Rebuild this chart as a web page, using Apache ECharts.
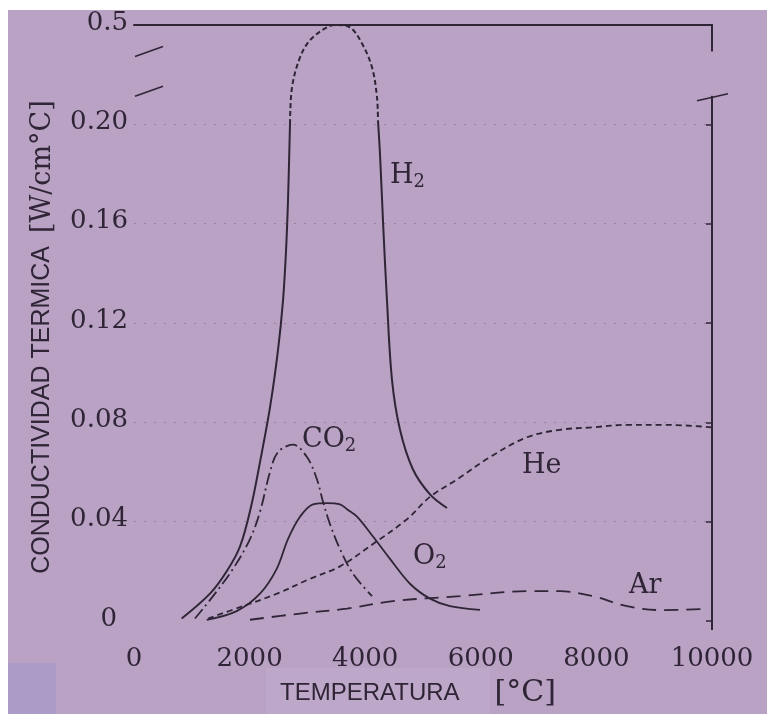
<!DOCTYPE html>
<html><head><meta charset="utf-8">
<script src="https://cdn.jsdelivr.net/npm/echarts@6/dist/echarts.min.js"></script>
<style>html,body{margin:0;padding:0;background:#fff}#c{width:767px;height:714px}</style>
</head><body><div id="c"></div>
<script>
// ---------- data (temperature in °C, conductivity in W/cm°C) ----------
const yTickLabels = ['0', '0.04', '0.08', '0.12', '0.16', '0.20', '0.5'];

const h2LeftT  = [825, 1315, 1604, 1834, 2025, 2180, 2353, 2491, 2578, 2630, 2664, 2699];
const h2LeftK  = [0.001, 0.011, 0.020, 0.030, 0.046, 0.064, 0.086, 0.109, 0.129, 0.149, 0.169, 0.201];
const h2TopT   = [2699, 2734, 2872, 3045, 3339, 3512, 3737, 3945, 4118, 4204, 4221];
const h2TopK   = [0.201, 0.312, 0.402, 0.454, 0.493, 0.500, 0.493, 0.444, 0.372, 0.282, 0.212];
const h2RightT = [4221, 4256, 4308, 4377, 4464, 4602, 4827, 5121, 5415];
const h2RightK = [0.212, 0.188, 0.161, 0.129, 0.097, 0.077, 0.061, 0.051, 0.0455];

const co2T = [1055, 1367, 1713, 2007, 2180, 2353, 2491, 2751, 2993, 3166, 3270, 3391, 3564, 3789, 4118];
const co2K = [0.001, 0.010, 0.021, 0.033, 0.044, 0.060, 0.068, 0.071, 0.066, 0.057, 0.048, 0.039, 0.029, 0.019, 0.010];

const o2T = [1258, 1777, 2180, 2469, 2664, 2872, 3097, 3339, 3564, 3685, 3858, 4135, 4429, 4775, 5121, 5467, 5986];
const o2K = [0.0005, 0.004, 0.011, 0.021, 0.033, 0.042, 0.047, 0.0475, 0.047, 0.045, 0.042, 0.034, 0.025, 0.015, 0.009, 0.006, 0.0045];

const heT = [1280, 1886, 2474, 3045, 3564, 4135, 4723, 5121, 5588, 6159, 6799, 7370, 7941, 8529, 9200, 10000];
const heK = [0.001, 0.006, 0.011, 0.017, 0.022, 0.031, 0.041, 0.050, 0.057, 0.066, 0.074, 0.077, 0.078, 0.079, 0.079, 0.078];

const arT = [2007, 2872, 3685, 4481, 5640, 6799, 7370, 7941, 8529, 9100, 9844];
const arK = [0.0005, 0.003, 0.005, 0.008, 0.010, 0.012, 0.012, 0.010, 0.006, 0.0044, 0.0048];

// curve labels: [name, subscript, T, K]
const curveLabels = [
  ['H', '2', 4429, 0.179],
  ['CO', '2', 2907, 0.0728],
  ['He', '', 6713, 0.0624],
  ['O', '2', 4827, 0.0258],
  ['Ar', '', 8564, 0.0141]
];

// ---------- broken y axis: 0.20 .. 0.5 compressed into one 0.04 step ----------
const BREAK_LO = 0.20, BREAK_HI = 0.5, BREAK_SPAN = 0.04;
const toAxis = k => k <= BREAK_LO ? k : BREAK_LO + (k - BREAK_LO) * BREAK_SPAN / (BREAK_HI - BREAK_LO);
const pts = (T, K) => T.map((t, i) => [t, toAxis(K[i])]);

const INK = '#2f2536';
const BG = '#b9a2c4';
const SERIF = 'DejaVu Serif';
const SANS = 'Liberation Sans';

const chart = echarts.init(document.getElementById('c'), null, {renderer: 'canvas'});

function line(name, data, type, width) {
  return {
    name, type: 'line', data, smooth: 0.35, showSymbol: false, symbol: 'none',
    xAxisIndex: 0, yAxisIndex: 0, z: 5,
    lineStyle: {color: INK, width: width || 1.8, type: type || 'solid'}
  };
}

chart.setOption({
  animation: false,
  backgroundColor: BG,
  grid: {left: 134, right: 55, top: 25, bottom: 93},
  xAxis: [{
    type: 'value', min: 0, max: 10000, interval: 2000, position: 'bottom',
    axisLine: {show: false, onZero: false}, axisTick: {show: false}, splitLine: {show: false},
    axisLabel: {fontFamily: SERIF, fontSize: 26, color: INK, margin: 25, formatter: v => String(v)},
    name: '{a|TEMPERATURA}{b|[°C]}', nameLocation: 'middle', nameGap: 57,
    nameTextStyle: {padding: [0, 10, 0, 0], rich: {
      a: {fontFamily: SANS, fontSize: 24, color: INK},
      b: {fontFamily: SERIF, fontSize: 30, color: INK, padding: [0, 0, 0, 35]}
    }}
  }, {
    type: 'value', min: 0, max: 10000, interval: 2000, position: 'top',
    axisLine: {show: true, onZero: false, lineStyle: {color: INK, width: 2}},
    axisTick: {show: false}, axisLabel: {show: false}, splitLine: {show: false}
  }],
  yAxis: [{
    type: 'value', min: 0, max: 0.24, interval: 0.04, position: 'left',
    axisLine: {show: false, onZero: false}, axisTick: {show: false},
    axisLabel: {
      fontFamily: SERIF, fontSize: 26, color: INK, margin: 6,
      padding: [0, 0, 4, 0],
      formatter: v => {
        const s = yTickLabels[Math.round(v / 0.04)];
        return s === '0' ? '{z|0}' : s;
      },
      rich: {z: {fontFamily: SERIF, fontSize: 26, color: INK, padding: [0, 11, 0, 0]}}
    },
    splitLine: {show: true, showMinLine: false, showMaxLine: false,
      lineStyle: {color: 'rgba(70,50,80,0.3)', type: [2, 8], width: 1.2}},
    name: '{a|CONDUCTIVIDAD TERMICA}{b|[W/cm°C]}', nameLocation: 'middle', nameRotate: 90, nameGap: 78,
    nameTextStyle: {padding: [0, 28, 0, 0], rich: {
      a: {fontFamily: SANS, fontSize: 25, color: INK},
      b: {fontFamily: SERIF, fontSize: 27, color: INK, padding: [0, 0, 0, 13]}
    }}
  }, {
    type: 'value', min: 0, max: 0.24, interval: 0.04, position: 'right',
    axisLine: {show: true, onZero: false, lineStyle: {color: INK, width: 2}},
    axisTick: {show: true, inside: true, length: 6, lineStyle: {color: INK, width: 1.5}},
    axisLabel: {show: false}, splitLine: {show: false}
  }],
  series: [
    line('H2', pts(h2LeftT, h2LeftK), 'solid', 2),
    line('H2 (extrapolado)', pts(h2TopT, h2TopK), [5, 3], 2),
    line('H2 ', pts(h2RightT, h2RightK), 'solid', 2),
    line('CO2', pts(co2T, co2K), [12, 4, 2, 4], 1.8),
    line('O2', pts(o2T, o2K), 'solid', 1.8),
    line('He', pts(heT, heK), [6, 4], 1.8),
    line('Ar', pts(arT, arK), [14, 8], 1.8)
  ]
});

// ---------- decorations anchored to the axes ----------
const px = (t, k) => chart.convertToPixel({gridIndex: 0}, [t, toAxis(k)]);
const g = [];
// scan page edges
g.push({type: 'rect', z: -10, silent: true, shape: {x: 0, y: 0, width: 767, height: 10}, style: {fill: '#ffffff'}});
g.push({type: 'rect', z: -10, silent: true, shape: {x: 0, y: 0, width: 8, height: 714}, style: {fill: '#ffffff'}});
g.push({type: 'rect', z: -10, silent: true, shape: {x: 8, y: 663, width: 48, height: 51}, style: {fill: '#ab9bc6'}});
g.push({type: 'rect', z: -10, silent: true, shape: {x: 266, y: 668, width: 224, height: 46}, style: {fill: '#bea8c9'}});

// break marks
const l1 = px(0, 0.42), l2 = px(0, 0.30);
[l1, l2].forEach(p => g.push({type: 'line', z: 100, silent: true,
  shape: {x1: p[0] + 1, y1: p[1] + 5, x2: p[0] + 29, y2: p[1] - 5}, style: {stroke: INK, lineWidth: 1.5}}));
const r1 = px(10000, 0.42), r2 = px(10000, 0.28);
g.push({type: 'rect', z: 100, silent: true, shape: {x: r1[0] - 4, y: r1[1], width: 8, height: r2[1] - r1[1] - 2}, style: {fill: BG}});
g.push({type: 'line', z: 100, silent: true,
  shape: {x1: r2[0] - 15, y1: r2[1] + 3, x2: r2[0] + 16, y2: r2[1] - 4}, style: {stroke: INK, lineWidth: 1.5}});
// right axis runs a little below zero
const r0 = px(10000, 0);
g.push({type: 'line', z: 100, silent: true, shape: {x1: r0[0], y1: r0[1], x2: r0[0], y2: r0[1] + 9}, style: {stroke: INK, lineWidth: 2}});

// curve labels
curveLabels.forEach(([n, s, t, k]) => {
  const p = px(t, k);
  g.push({type: 'text', z: 100, silent: true, x: p[0], y: p[1],
    style: {text: s ? '{n|' + n + '}{s|' + s + '}' : '{n|' + n + '}', align: 'left', verticalAlign: 'middle',
      rich: {n: {fontFamily: SERIF, fontSize: 27, fill: INK, lineHeight: 30},
             s: {fontFamily: SERIF, fontSize: 18, fill: INK, lineHeight: 10, verticalAlign: 'bottom'}}}});
});
chart.setOption({graphic: {elements: g}});
</script></body></html>
